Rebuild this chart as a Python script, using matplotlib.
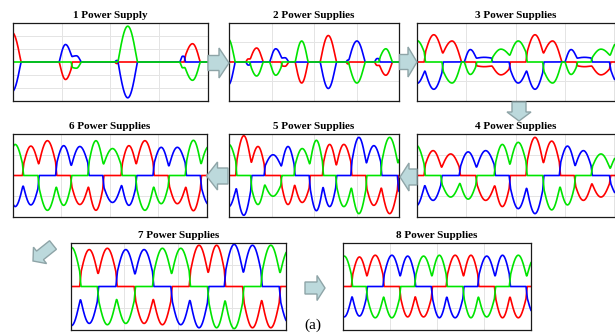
import numpy as np
import matplotlib
matplotlib.use("Agg")
import matplotlib.pyplot as plt
from matplotlib.patches import Polygon

# ---------------------------------------------------------------------------
# Phase-current data.  Time is normalised to 0..1 across each panel, current
# to the half-scale of the panel.  Every conduction interval carries +i in one
# phase and -i in another: start, end, positive phase, negative phase, peak |i|.
# ---------------------------------------------------------------------------

# 1 supply: isolated current pulses
P1_START = [-0.050, 0.238, 0.302, 0.524, 0.541, 0.859, 0.884]
P1_END = [0.041, 0.302, 0.350, 0.541, 0.639, 0.884, 0.962]
P1_POS = "RBBBGBR"
P1_NEG = "BRGRBGG"
P1_PEAK = [0.76, 0.45, 0.16, 0.04, 0.92, 0.15, 0.47]

# 2 supplies
P2_START = [-0.040, 0.100, 0.125, 0.240, 0.310, 0.390, 0.537, 0.690, 0.705, 0.857, 0.885]
P2_END = [0.035, 0.125, 0.200, 0.310, 0.350, 0.465, 0.631, 0.705, 0.800, 0.885, 0.960]
P2_POS = "GRRBBGRBBBG"
P2_NEG = "BBGGRRBRGRR"
P2_PEAK = [0.58, 0.08, 0.36, 0.34, 0.11, 0.54, 0.68, 0.05, 0.54, 0.09, 0.34]

# 3 supplies
P3_START = [-0.040, 0.040, 0.130, 0.240, 0.300, 0.380, 0.470, 0.555, 0.640, 0.750, 0.810, 0.885, 0.978]
P3_END = [0.040, 0.130, 0.225, 0.300, 0.380, 0.470, 0.555, 0.640, 0.733, 0.810, 0.885, 0.978, 1.060]
P3_POS = "GRRBBGGRRBBGG"
P3_NEG = "BBGGRRBBGGRRB"
P3_PEAK = [0.55, 0.70, 0.54, 0.32, 0.12, 0.33, 0.54, 0.70, 0.54, 0.32, 0.12, 0.33, 0.54]

# 4..8 supplies: continuous 120-degree conduction, commutation instants
SIX_STEP_POS = "GRRBBGGRRBBGG"
SIX_STEP_NEG = "BBGGRRBBGGRRB"

P4_EDGES = [-0.046, 0.039, 0.124, 0.217, 0.301, 0.394, 0.470, 0.555, 0.640, 0.724, 0.800, 0.885, 0.978, 1.063]
P4_PEAK = [0.73, 0.60, 0.52, 0.57, 0.60, 0.75, 0.80, 0.92, 0.83, 0.71, 0.60, 0.52, 0.50]

P5_EDGES = [-0.045, 0.043, 0.131, 0.210, 0.308, 0.386, 0.475, 0.553, 0.631, 0.720, 0.808, 0.896, 0.994, 1.080]
P5_PEAK = [0.75, 0.96, 0.70, 0.50, 0.70, 0.65, 0.85, 0.75, 0.75, 0.92, 0.72, 0.92, 0.75]

P6_EDGES = [-0.030, 0.052, 0.132, 0.223, 0.300, 0.389, 0.466, 0.560, 0.635, 0.725, 0.803, 0.891, 0.969, 1.050]
P6_PEAK = [0.75, 0.71, 0.84, 0.72, 0.70, 0.84, 0.65, 0.72, 0.84, 0.68, 0.68, 0.85, 0.70]

P7_EDGES = [-0.037, 0.046, 0.128, 0.214, 0.299, 0.384, 0.469, 0.554, 0.639, 0.717, 0.802, 0.887, 0.972, 1.055]
P7_PEAK = [0.90, 0.85, 0.88, 0.85, 0.85, 0.88, 0.88, 0.95, 0.95, 0.97, 0.95, 0.95, 0.85]

P8_EDGES = [-0.035, 0.048, 0.127, 0.216, 0.304, 0.384, 0.473, 0.552, 0.641, 0.720, 0.809, 0.888, 0.977, 1.060]
P8_PEAK = [0.70, 0.68, 0.72, 0.72, 0.70, 0.70, 0.72, 0.72, 0.72, 0.70, 0.72, 0.72, 0.65]

TITLES = ["1 Power Supply", "2 Power Supplies", "3 Power Supplies",
          "4 Power Supplies", "5 Power Supplies", "6 Power Supplies",
          "7 Power Supplies", "8 Power Supplies"]

PHASE_COLORS = {"R": "#ff0000", "B": "#0000ff", "G": "#00e400"}
DIP = 0.30          # current left at a commutation, relative to the larger hump


def phase_currents(t, start, end, pos, neg, peak):
    n = len(start)
    dip_l = np.zeros(n)
    dip_r = np.zeros(n)
    for k in range(n - 1):
        if abs(end[k] - start[k + 1]) < 1e-9:
            d = min(DIP * max(peak[k], peak[k + 1]), 0.9 * min(peak[k], peak[k + 1]))
            dip_r[k] = d
            dip_l[k + 1] = d
    cur = {c: np.zeros_like(t) for c in "RGB"}
    for k in range(n):
        m = (t >= start[k]) & (t < end[k])
        u = (t[m] - start[k]) / (end[k] - start[k])
        base = np.where(u < 0.5, dip_l[k], dip_r[k])
        mag = base + (peak[k] - base) * np.sin(np.pi * u)
        cur[pos[k]][m] += mag
        cur[neg[k]][m] -= mag
    kern = np.ones(13) / 13.0
    for c in cur:
        cur[c] = np.convolve(cur[c], kern, mode="same")
    return cur


def from_edges(edges):
    return list(edges[:-1]), list(edges[1:])


panels = [
    (P1_START, P1_END, P1_POS, P1_NEG, P1_PEAK),
    (P2_START, P2_END, P2_POS, P2_NEG, P2_PEAK),
    (P3_START, P3_END, P3_POS, P3_NEG, P3_PEAK),
    (*from_edges(P4_EDGES), SIX_STEP_POS, SIX_STEP_NEG, P4_PEAK),
    (*from_edges(P5_EDGES), SIX_STEP_POS, SIX_STEP_NEG, P5_PEAK),
    (*from_edges(P6_EDGES), SIX_STEP_POS, SIX_STEP_NEG, P6_PEAK),
    (*from_edges(P7_EDGES), SIX_STEP_POS, SIX_STEP_NEG, P7_PEAK),
    (*from_edges(P8_EDGES), SIX_STEP_POS, SIX_STEP_NEG, P8_PEAK),
]

# panel frames in pixels: left, top, right, bottom
boxes = [
    (13, 23, 207.5, 101), (229, 23, 399, 101), (417, 23, 614.5, 101),
    (417, 134, 614.5, 217), (229, 134, 399, 217), (13, 134, 207, 217),
    (70.5, 243, 286, 330), (343, 243, 531, 330),
]
hgrid = [[-2 / 3, -1 / 3, 1 / 3, 2 / 3]] + [[-0.5, 0.5]] * 7

W, H = 615, 333
fig = plt.figure(figsize=(W / 100, H / 100), dpi=100)
fig.patch.set_facecolor("white")

t = np.linspace(-0.1, 1.1, 2401)
for i, (data, box) in enumerate(zip(panels, boxes)):
    left, top, right, bottom = box
    ax = fig.add_axes([left / W, 1 - bottom / H, (right - left) / W, (bottom - top) / H])
    ax.set_xlim(0, 1)
    ax.set_ylim(-1, 1)
    ax.set_xticks([0.25, 0.5, 0.75])
    ax.set_yticks(hgrid[i])
    ax.grid(True, color="#e4e4e4", lw=0.7)
    ax.set_axisbelow(True)
    ax.tick_params(length=0, labelbottom=False, labelleft=False)
    for sp in ax.spines.values():
        sp.set_color("#1a1a1a")
        sp.set_linewidth(0.9)
    cur = phase_currents(t, *data)
    for c in ["R", "B", "G"]:
        ax.plot(t, cur[c], color=PHASE_COLORS[c], lw=1.2, solid_joinstyle="round")
    fig.text((left + right) / 2 / W, 1 - (top - 5) / H, TITLES[i], ha="center",
             va="baseline", fontfamily="Liberation Serif", fontweight="bold", fontsize=8)

# block arrows linking the panels, drawn in pixel space
ov = fig.add_axes([0, 0, 1, 1])
ov.set_xlim(0, W)
ov.set_ylim(H, 0)
ov.axis("off")
ov.patch.set_alpha(0)


def block_arrow(tail, tip, shaft_hw, head_hw, head_len):
    tail = np.asarray(tail, float)
    tip = np.asarray(tip, float)
    d = tip - tail
    u = d / np.hypot(*d)
    nrm = np.array([-u[1], u[0]])
    base = tip - u * head_len
    pts = [tail + nrm * shaft_hw, base + nrm * shaft_hw, base + nrm * head_hw, tip,
           base - nrm * head_hw, base - nrm * shaft_hw, tail - nrm * shaft_hw]
    ov.add_patch(Polygon(pts, closed=True, fc="#bcd9dc", ec="#8ea4a7", lw=1.0,
                         joinstyle="miter"))


block_arrow((208, 63), (229, 63), 7.5, 15, 10)
block_arrow((399.5, 62), (417, 62), 7.5, 15, 9)
block_arrow((519, 102), (519, 121), 7, 12, 9)
block_arrow((417, 177), (400, 177), 8, 14, 9)
block_arrow((228, 176), (206.5, 176), 8, 14, 11)
block_arrow((53, 245), (33, 261), 5.5, 10.5, 9)
block_arrow((305, 288), (325, 288), 6, 12.5, 8)

fig.text(313 / W, 1 - 332.5 / H, "(a)", ha="center", va="bottom",
         fontfamily="Liberation Serif", fontsize=11)

fig.savefig("out.png", dpi=100)
